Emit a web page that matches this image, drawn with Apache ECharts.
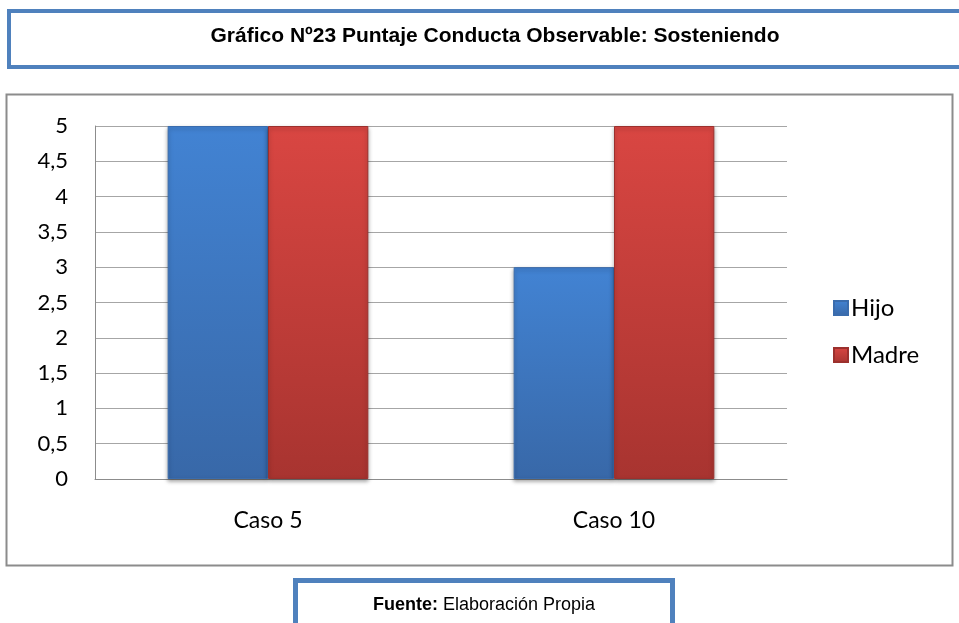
<!DOCTYPE html>
<html>
<head>
<meta charset="utf-8">
<script src="https://cdn.jsdelivr.net/npm/echarts@6/dist/echarts.min.js"></script>
<style>
  html, body { margin: 0; padding: 0; background: #fff; }
  #chart { width: 959px; height: 623px; }
</style>
</head>
<body>
<div id="chart"></div>
<script>
// datos del gráfico
const categorias = ['Caso 5', 'Caso 10']
const hijo = [5, 3]
const madre = [5, 5]
const ejeY = { min: 0, max: 5, interval: 0.5 }

// degradado vertical para las barras
function degradado(top, bottom) {
  return new echarts.graphic.LinearGradient(0, 0, 0, 1, [
    { offset: 0, color: top },
    { offset: 1, color: bottom },
  ])
}

const myChart = echarts.init(document.getElementById('chart'))
const option = {
  animation: false,
  backgroundColor: '#fff',
  title: {
    text: 'Gráfico Nº23 Puntaje Conducta Observable: Sosteniendo',
    left: 490,
    top: 21,
    textAlign: 'center',
    textStyle: {
      fontFamily: 'Liberation Sans, Arial',
      fontWeight: 'bold',
      fontSize: 21,
      color: '#000',
    },
  },
  graphic: [
    // recuadro del título
    {
      type: 'rect',
      z: -1,
      shape: { x: 9, y: 11, width: 970, height: 56 },
      style: { fill: '#fff', stroke: '#4f81bd', lineWidth: 4 },
    },
    // recuadro del gráfico
    {
      type: 'rect',
      z: -1,
      shape: { x: 6.5, y: 94.5, width: 946, height: 471 },
      style: { fill: '#fff', stroke: '#8c8c8c', lineWidth: 2 },
    },
    // recuadro de la fuente
    {
      type: 'rect',
      z: -1,
      shape: { x: 295.5, y: 580.5, width: 377, height: 60 },
      style: { fill: '#fff', stroke: '#4f81bd', lineWidth: 5 },
    },
    {
      type: 'text',
      x: 484,
      y: 605,
      style: {
        text: '{b|Fuente:} Elaboración Propia',
        align: 'center',
        verticalAlign: 'middle',
        fontFamily: 'Liberation Sans, Arial',
        fontSize: 18,
        fill: '#000',
        rich: {
          b: { fontWeight: 'bold', fontFamily: 'Liberation Sans, Arial', fontSize: 18 },
        },
      },
    },
  ],
  legend: {
    orient: 'vertical',
    left: 828,
    top: 291,
    itemWidth: 14,
    itemHeight: 14,
    itemGap: 23,
    icon: 'rect',
    textStyle: { fontFamily: 'Lato', fontSize: 24, color: '#000', padding: [0, 0, 0, -2] },
    data: ['Hijo', 'Madre'],
  },
  grid: { left: 95, right: 172, top: 126, bottom: 144 },
  xAxis: {
    type: 'category',
    data: categorias,
    axisLine: { lineStyle: { color: '#8c8c8c' } },
    axisTick: { show: false },
    axisLabel: { fontFamily: 'Lato', fontSize: 23, color: '#000', margin: 30 },
  },
  yAxis: {
    type: 'value',
    min: ejeY.min,
    max: ejeY.max,
    interval: ejeY.interval,
    axisLine: { show: true, lineStyle: { color: '#8c8c8c' } },
    axisTick: { show: false },
    splitLine: { lineStyle: { color: '#a6a6a6' } },
    axisLabel: {
      fontFamily: 'Lato',
      fontSize: 22,
      color: '#000',
      margin: 27,
      formatter: (v) => String(v).replace('.', ','),
    },
  },
  series: [
    {
      name: 'Hijo',
      type: 'bar',
      data: hijo,
      barGap: '0%',
      barCategoryGap: '42%',
      itemStyle: {
        color: degradado('#4283d3', '#3868a8'),
        borderColor: '#3a6cad',
        borderWidth: 1,
        shadowColor: 'rgba(0,0,0,0.35)',
        shadowBlur: 4,
        shadowOffsetY: 2,
      },
    },
    {
      name: 'Madre',
      type: 'bar',
      data: madre,
      itemStyle: {
        color: degradado('#d94642', '#a83430'),
        borderColor: '#9c302d',
        borderWidth: 1,
        shadowColor: 'rgba(0,0,0,0.35)',
        shadowBlur: 4,
        shadowOffsetY: 2,
      },
    },
  ],
}
myChart.setOption(option)
</script>
</body>
</html>
